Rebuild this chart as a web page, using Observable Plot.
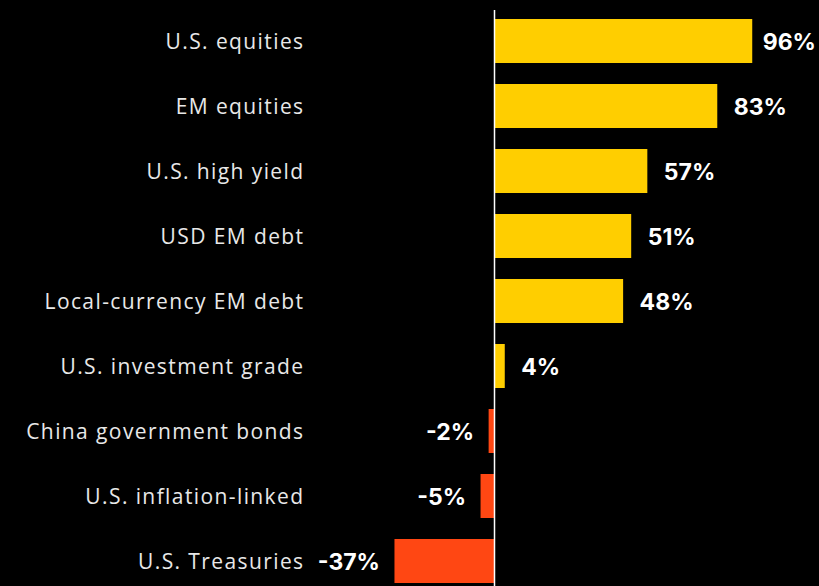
<!DOCTYPE html>
<html>
<head>
<meta charset="utf-8">
<script src="https://cdn.jsdelivr.net/npm/d3@7"></script>
<script src="https://cdn.jsdelivr.net/npm/@observablehq/plot@0.6"></script>
<style>
  html, body { margin: 0; padding: 0; background: #000; }
  #chart { width: 819px; height: 586px; overflow: hidden; }
  #chart g[aria-label="y-axis tick label"] {
    font-family: "Open Sans", sans-serif;
    letter-spacing: 1.4px;
  }
</style>
</head>
<body>
<div id="chart"></div>
<script>
const categories = [
  "U.S. equities",
  "EM equities",
  "U.S. high yield",
  "USD EM debt",
  "Local-currency EM debt",
  "U.S. investment grade",
  "China government bonds",
  "U.S. inflation-linked",
  "U.S. Treasuries"
];
const values = [96, 83, 57, 51, 48, 4, -2, -5, -37];
const positiveColor = "#FFCE00";
const negativeColor = "#FF4713";

const data = categories.map((c, i) => ({category: c, value: values[i]}));
const maxValue = d3.max(values);

const chart = Plot.plot({
  width: 819,
  height: 586,
  marginTop: 10,
  marginBottom: 0,
  marginLeft: 313,
  marginRight: 0,
  style: {background: "#000", color: "#fff", fontFamily: "Inter, sans-serif"},
  x: {domain: [-40, 100], range: [386.4, 763], axis: null},
  y: {domain: categories, range: [19, 583], paddingInner: 0.323, paddingOuter: 0, round: false, label: null},
  marks: [
    Plot.barX(data, {
      y: "category",
      x: "value",
      fill: d => d.value >= 0 ? positiveColor : negativeColor
    }),
    Plot.ruleX([0], {stroke: "#fff", strokeWidth: 1.5}),
    Plot.axisY({tickSize: 0, tickPadding: 9, fontSize: 21, fill: "#e8e8e8", label: null, dy: 1}),
    Plot.text(data.filter(d => d.value >= 0 && d.value < maxValue), {
      y: "category", x: "value", text: d => `${d.value}%`, dy: 1,
      textAnchor: "start", dx: 16, fill: "#fff", fontSize: 23, fontWeight: "bold"
    }),
    Plot.text(data.filter(d => d.value === maxValue), {
      y: "category", x: "value", text: d => `${d.value}%`, dy: 1,
      textAnchor: "start", dx: 10, fill: "#fff", fontSize: 23, fontWeight: "bold"
    }),
    Plot.text(data.filter(d => d.value < 0), {
      y: "category", x: "value", text: d => `${d.value}%`, dy: 1,
      textAnchor: "end", dx: -15, fill: "#fff", fontSize: 23, fontWeight: "bold"
    })
  ]
});
document.getElementById("chart").appendChild(chart);
</script>
</body>
</html>
